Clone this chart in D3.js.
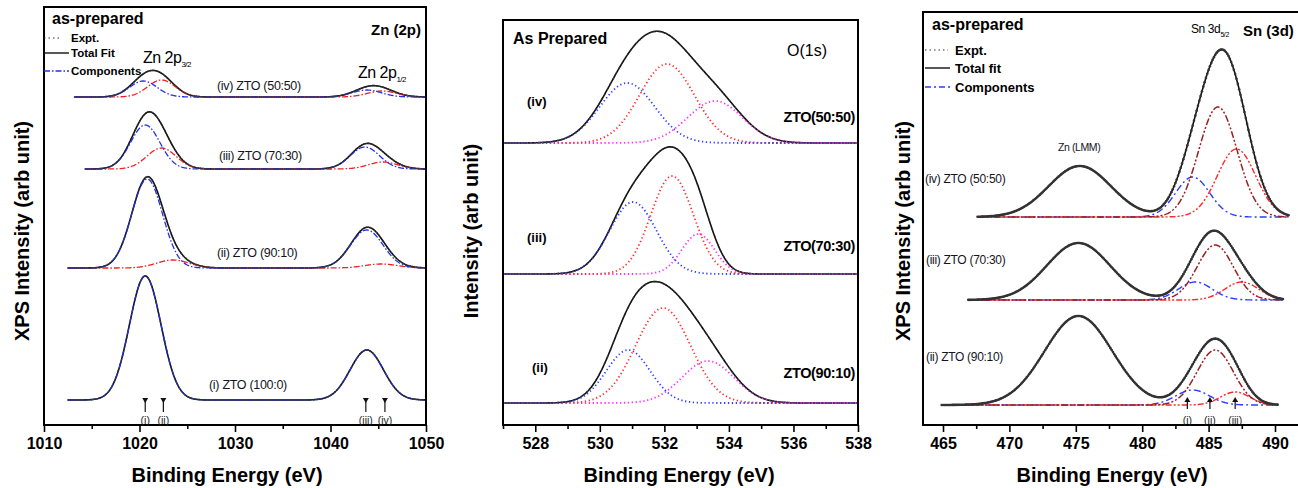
<!DOCTYPE html>
<html>
<head>
<meta charset="utf-8">
<script src="https://cdn.jsdelivr.net/npm/d3@7"></script>
<style>
  body { margin: 0; background: #fff; }
  text { font-family: "Liberation Sans", Arial, sans-serif; }
  .narrow { font-family: "Liberation Sans Narrow", "Liberation Sans", Arial, sans-serif; }
</style>
</head>
<body>
<div id="chart"></div>
<script>
// ---------------- data ----------------
// peaks: [centre (eV), height (arb), FWHM (eV), component]

// Zn 2p
const znLabels = ["(i) ZTO (100:0)", "(ii) ZTO (90:10)", "(iii) ZTO (70:30)", "(iv) ZTO (50:50)"];
const znOffsets = [25, 157, 256, 328];
const znRanges = [[1012.5, 1050], [1012.5, 1050], [1014.3, 1050], [1013.2, 1050]];
const znPeaks = [
  [[1020.6, 124, 3.9, "blue"], [1043.8, 50, 4.1, "blue"]],
  [[1020.8, 89, 3.8, "blue"], [1023.5, 8, 4.0, "red"], [1043.8, 38, 4.0, "blue"], [1045.3, 4, 4.0, "red"]],
  [[1020.6, 44, 3.6, "blue"], [1022.3, 21, 3.6, "red"], [1043.6, 22, 3.6, "blue"], [1045.5, 7, 3.6, "red"]],
  [[1020.4, 16, 3.4, "blue"], [1022.3, 17, 3.4, "red"], [1043.8, 7, 3.6, "blue"], [1045.4, 6, 3.6, "red"]]
];
const znMarks = [1020.6, 1022.5, 1043.7, 1045.7];
const znMarkLabels = ["(i)", "(ii)", "(iii)", "(iv)"];

// O 1s
const oLabels = ["(ii)", "(iii)", "(iv)"];
const oSamples = ["ZTO(90:10)", "ZTO(70:30)", "ZTO(50:50)"];
const oOffsets = [22, 151, 282];
const oRanges = [[527, 538], [527, 538], [527, 538]];
const oPeaks = [
  [[530.88, 53, 1.6, "blue"], [531.96, 95, 2.0, "red"], [533.35, 42, 1.9, "magenta"]],
  [[531.03, 72, 1.7, "blue"], [532.24, 98, 1.55, "red"], [533.05, 40, 1.2, "magenta"]],
  [[530.85, 60, 2.0, "blue"], [532.08, 79, 2.0, "red"], [533.57, 42, 2.0, "magenta"]]
];

// Sn 3d (Zn LMM Auger peak is only part of the total fit)
const snLabels = ["(ii) ZTO (90:10)", "(iii) ZTO (70:30)", "(iv) ZTO (50:50)"];
const snOffsets = [20, 125, 208];
const snRanges = [[464.9, 490.2], [466.9, 490.6], [467.6, 491.1]];
const snPeaks = [
  [[475.2, 89, 6.0, "lmm"], [483.8, 15, 3.0, "blue"], [485.5, 55, 3.2, "darkred"], [487.0, 13, 2.6, "red"]],
  [[475.2, 57, 5.6, "lmm"], [484.0, 18, 3.0, "blue"], [485.5, 55, 3.2, "darkred"], [487.5, 18, 3.0, "red"]],
  [[475.3, 51, 5.5, "lmm"], [483.8, 40, 3.0, "blue"], [485.7, 110, 3.4, "darkred"], [487.1, 68, 3.4, "red"]]
];
const snMarks = [483.4, 485.1, 487.0];
const snMarkLabels = ["(i)", "(ii)", "(iii)"];

// ---------------- drawing ----------------
const svg = d3.select("#chart").append("svg")
    .attr("width", 1298)
    .attr("height", 488);

const gauss = (e, p) => p[1] * Math.exp(-4 * Math.LN2 * (e - p[0]) ** 2 / (p[2] * p[2]));

function drawPanel(cfg) {
  const x = d3.scaleLinear().domain(cfg.xDomain).range(cfg.xRange);
  const y = d3.scaleLinear().domain([0, cfg.yMax]).range([cfg.bottom, cfg.top]);
  const g = svg.append("g");

  cfg.peaks.forEach((peaks, i) => {
    const [e0, e1] = cfg.ranges[i];
    const es = d3.range(501).map(k => e0 + (e1 - e0) * k / 500);
    const off = cfg.offsets[i];
    const line = d3.line().x(d => x(d[0])).y(d => y(off + d[1]));

    // total fit
    g.append("path")
        .datum(es.map(e => [e, d3.sum(peaks, p => gauss(e, p))]))
        .attr("d", line)
        .attr("fill", "none")
        .attr("stroke", "#111")
        .attr("stroke-width", 1.6);

    // components
    cfg.comps.forEach(c => {
      const ps = peaks.filter(p => p[3] === c.name);
      if (!ps.length) return;
      g.append("path")
          .datum(es.map(e => [e, d3.sum(ps, p => gauss(e, p))]))
          .attr("d", line)
          .attr("fill", "none")
          .attr("stroke", c.color)
          .attr("stroke-width", c.width)
          .attr("stroke-dasharray", c.dash);
    });

    // experimental points
    const pts = d3.range(e0, e1, cfg.exptStep).map(e => [e, d3.sum(peaks, p => gauss(e, p))]);
    g.selectAll(null)
        .data(pts)
        .join("circle")
        .attr("cx", d => x(d[0]))
        .attr("cy", d => y(off + d[1]))
        .attr("r", cfg.exptR)
        .attr("fill", "#333");
  });

  // frame
  g.append("rect")
      .attr("x", cfg.frame[0]).attr("y", cfg.top)
      .attr("width", cfg.frame[1] - cfg.frame[0])
      .attr("height", cfg.bottom - cfg.top)
      .attr("fill", "none")
      .attr("stroke", "#000")
      .attr("stroke-width", 2);

  // axis
  const ax = g.append("g")
      .attr("transform", "translate(0," + cfg.bottom + ")")
      .call(d3.axisBottom(x).tickValues(cfg.majors).tickSize(7).tickPadding(6).tickFormat(d3.format("d")));
  ax.select(".domain").remove();
  ax.selectAll("line").attr("stroke-width", 1.6);
  ax.selectAll("text")
      .attr("font-family", "Liberation Sans, Arial, sans-serif")
      .attr("font-size", 16).attr("font-weight", "bold").attr("fill", "#000");
  const mi = g.append("g")
      .attr("transform", "translate(0," + cfg.bottom + ")")
      .call(d3.axisBottom(x).tickValues(cfg.minors).tickSize(4).tickFormat(""));
  mi.select(".domain").remove();
  mi.selectAll("line").attr("stroke-width", 1.6);

  g.append("text")
      .attr("x", cfg.xTitleX).attr("y", 482)
      .attr("text-anchor", "middle")
      .attr("font-size", 20).attr("font-weight", "bold")
      .text("Binding Energy (eV)");
  g.append("text")
      .attr("transform", "translate(" + cfg.yTitleX + ",231) rotate(-90)")
      .attr("text-anchor", "middle")
      .attr("font-size", 20).attr("font-weight", "bold")
      .text(cfg.yTitle);

  return { x, y, g };
}

function txt(g, x, y, s, size, opts = {}) {
  return g.append("text")
      .attr("x", x).attr("y", y)
      .attr("font-size", size)
      .attr("font-weight", opts.bold ? "bold" : null)
      .attr("text-anchor", opts.anchor || "start")
      .attr("letter-spacing", opts.ls || null)
      .attr("fill", opts.fill || "#000")
      .attr("class", opts.cls || null)
      .text(s);
}

function legendLine(g, x0, x1, y, color, dash, w) {
  g.append("line").attr("x1", x0).attr("x2", x1).attr("y1", y).attr("y2", y)
      .attr("stroke", color).attr("stroke-width", w).attr("stroke-dasharray", dash);
}

function arrows(p, marks, labels, up, yA, yB, yL) {
  marks.forEach((e, i) => {
    const xx = p.x(e);
    const tip = up ? yB : yA, tail = up ? yA : yB;
    const d = up ? 1 : -1;
    p.g.append("line").attr("x1", xx).attr("x2", xx).attr("y1", tail).attr("y2", tip + d * 3)
        .attr("stroke", "#111").attr("stroke-width", 1.2);
    p.g.append("path")
        .attr("d", `M${xx - 3},${tip + d * 5}L${xx},${tip}L${xx + 3},${tip + d * 5}Z`)
        .attr("fill", "#111");
    txt(p.g, xx, yL, labels[i], 10.5, { anchor: "middle", fill: "#222" });
  });
}

// ---- panel 1: Zn 2p ----
const p1 = drawPanel({
  xDomain: [1010, 1050], xRange: [44, 426], frame: [44, 426],
  top: 7, bottom: 425, yMax: 418,
  peaks: znPeaks, offsets: znOffsets, ranges: znRanges,
  comps: [
    { name: "red", color: "#f02020", width: 1.3, dash: "6,2,1.5,2" },
    { name: "blue", color: "#2030f0", width: 1.3, dash: "6,2,1.5,2" }
  ],
  exptStep: 0.22, exptR: 0.8,
  majors: [1010, 1020, 1030, 1040, 1050], minors: [1015, 1025, 1035, 1045],
  xTitleX: 227, yTitleX: 29, yTitle: "XPS Intensity (arb unit)"
});
txt(p1.g, 52, 24, "as-prepared", 16, { bold: true });
txt(p1.g, 421, 35, "Zn (2p)", 15, { bold: true, anchor: "end" });
legendLine(p1.g, 44, 62, 38, "#333", "1.5,3", 1.2);
legendLine(p1.g, 44, 69, 53, "#111", null, 1.4);
legendLine(p1.g, 44, 69, 71, "#2030f0", "6,2,1.5,2", 1.3);
txt(p1.g, 71, 42, "Expt.", 11.5, { bold: true });
txt(p1.g, 71, 57, "Total Fit", 11.5, { bold: true });
txt(p1.g, 71, 75, "Components", 11.5, { bold: true });
const t1 = txt(p1.g, 143, 63, "Zn 2p", 16, { cls: "narrow", ls: -0.5 });
t1.append("tspan").attr("font-size", 8).attr("dy", 4).text("3/2");
const t2 = txt(p1.g, 358, 78, "Zn 2p", 16, { cls: "narrow", ls: -0.5 });
t2.append("tspan").attr("font-size", 8).attr("dy", 4).text("1/2");
const znLabelPos = [[209, 389], [217, 257], [219, 160], [217, 90]];
znLabels.forEach((s, i) => txt(p1.g, znLabelPos[i][0], znLabelPos[i][1], s, 12.5, { fill: "#141424", ls: -0.3 }));
arrows(p1, znMarks, znMarkLabels, false, 403, 412, 424);

// ---- panel 2: O 1s ----
const p2 = drawPanel({
  xDomain: [527, 538], xRange: [503, 858], frame: [503, 858],
  top: 20, bottom: 425, yMax: 405,
  peaks: oPeaks, offsets: oOffsets, ranges: oRanges,
  comps: [
    { name: "magenta", color: "#ff30ff", width: 1.8, dash: "1.3,2.6" },
    { name: "red", color: "#ff3030", width: 1.8, dash: "1.3,2.6" },
    { name: "blue", color: "#3340ff", width: 1.8, dash: "1.3,2.6" }
  ],
  exptStep: 0.09, exptR: 0.8,
  majors: [528, 530, 532, 534, 536, 538], minors: [527, 529, 531, 533, 535, 537],
  xTitleX: 679, yTitleX: 478, yTitle: "Intensity (arb unit)"
});
txt(p2.g, 513, 44, "As Prepared", 16, { bold: true });
txt(p2.g, 787, 56, "O(1s)", 16);
const oLabelPos = [[532, 372], [527, 242], [527, 106]];
const oSamplePos = [378, 251, 122];
oLabels.forEach((s, i) => txt(p2.g, oLabelPos[i][0], oLabelPos[i][1], s, 13, { bold: true }));
oSamples.forEach((s, i) => txt(p2.g, 855, oSamplePos[i], s, 14.5, { bold: true, anchor: "end", ls: -0.4 }));

// ---- panel 3: Sn 3d ----
const p3 = drawPanel({
  xDomain: [465, 490], xRange: [943, 1275], frame: [923, 1304],
  top: 12, bottom: 425, yMax: 413,
  peaks: snPeaks, offsets: snOffsets, ranges: snRanges,
  comps: [
    { name: "blue", color: "#2a3cff", width: 1.4, dash: "7,3,2,3" },
    { name: "red", color: "#ff2828", width: 1.4, dash: "6,2,2,2,2,2" },
    { name: "darkred", color: "#9c1f1f", width: 1.5, dash: "7,2,2,2,2,2" }
  ],
  exptStep: 0.1, exptR: 1.3,
  majors: [465, 470, 475, 480, 485, 490], minors: [467.5, 472.5, 477.5, 482.5, 487.5],
  xTitleX: 1112, yTitleX: 910, yTitle: "XPS Intensity (arb unit)"
});
txt(p3.g, 932, 30, "as-prepared", 16, { bold: true });
txt(p3.g, 1243, 36, "Sn (3d)", 15, { bold: true });
const t3 = txt(p3.g, 1191, 33, "Sn 3d", 12, { cls: "narrow", ls: -0.4 });
t3.append("tspan").attr("font-size", 7).attr("dy", 4).text("5/2");
legendLine(p3.g, 925, 948, 50, "#333", "1.5,3", 1.2);
legendLine(p3.g, 925, 950, 68, "#111", null, 1.4);
legendLine(p3.g, 925, 950, 87, "#2a3cff", "6,3,2,3", 1.3);
txt(p3.g, 955, 55, "Expt.", 13, { bold: true });
txt(p3.g, 955, 73, "Total fit", 13, { bold: true });
txt(p3.g, 955, 92, "Components", 13, { bold: true });
txt(p3.g, 1058, 151, "Zn (LMM)", 10.5, { cls: "narrow", ls: -0.4, fill: "#141424" });
const snLabelPos = [[926, 361], [926, 264], [925, 183]];
snLabels.forEach((s, i) => txt(p3.g, snLabelPos[i][0], snLabelPos[i][1], s, 12, { cls: "narrow", fill: "#141424", ls: -0.3 }));
arrows(p3, snMarks, snMarkLabels, true, 409, 397, 424);
</script>
</body>
</html>
